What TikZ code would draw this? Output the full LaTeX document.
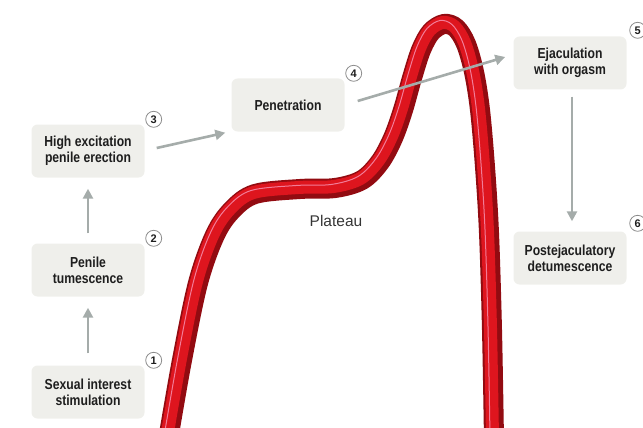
\documentclass[tikz,border=0pt]{standalone}
\usepackage{fontspec}
\usepackage{xcolor}
\usepackage{tikz}
\usetikzlibrary{calc,arrows.meta,positioning}
\newfontfamily\boxfont[FakeStretch=0.84]{Liberation Sans}
\newfontfamily\plainfont{Liberation Sans}
\definecolor{boxbg}{HTML}{EFEFEB}
\definecolor{inkc}{HTML}{1E1E1E}
\definecolor{arrowc}{HTML}{A5ACAA}
\definecolor{numc}{HTML}{8C8C8C}
\definecolor{tubedark}{HTML}{920B11}
\definecolor{tubemain}{HTML}{DE151E}
\definecolor{tubeshine}{HTML}{F27C98}
\tikzset{
  ar/.style={-{Triangle[length=10pt,width=10pt]},line width=2.6pt,arrowc},
  box/.style={fill=boxbg,rounded corners=6pt,minimum width=113pt,minimum height=53pt,
    align=center,inner sep=3pt,text=inkc,font=\boxfont\bfseries\fontsize{14.5}{16}\selectfont},
  num/.style={circle,draw=numc,line width=0.8pt,fill=white,minimum size=16pt,inner sep=0pt,
    text=inkc,font=\plainfont\bfseries\fontsize{11}{11}\selectfont}
}
\newcommand\tubeline[1]{\draw[#1] plot[smooth,tension=0.55] coordinates {
  (168,440) (182,360) (198,283) (215,235) (232,210) (255,194) (300,189) (335,188)
  (362,180) (380,162) (393,138) (403,110) (412,78) (421,50) (431,32) (444,24) (456,28)
  (466,44) (474,72) (480,110) (485,167) (489,233) (492,330) (494,440)};}

\begin{document}
\begin{tikzpicture}[x=1pt,y=-1pt]
\useasboundingbox (0,0) rectangle (643,428);
% the response curve
\begin{scope}
\clip (0,0) rectangle (643,428);
\tubeline{tubedark,line width=20pt}
\tubeline{tubemain,line width=13pt,shift={(-1.5,-1.5)}}
\tubeline{tubeshine,line width=1pt,shift={(-4,-3.5)}}
\end{scope}
\node[font=\plainfont\fontsize{15.5}{16}\selectfont,text=inkc!90] (plat) at (336,221) {Plateau};

% phases
\node[box] (sexual) at (88,392) {Sexual interest\\stimulation};
\node[box] (tum) at (88,270) {Penile\\tumescence};
\node[box] (high) at (88,151) {High excitation\\penile erection};
\node[box] (pen) at (288,105) {Penetration};
\node[box] (ejac) at (570,63) {Ejaculation\\with orgasm};
\node[box] (post) at (570,258) {Postejaculatory\\detumescence};

\node[num] (n1) at ($(sexual.north east)+(9,-5)$) {1};
\node[num] (n2) at ($(tum.north east)+(9,-5)$) {2};
\node[num] (n3) at ($(high.north east)+(9,-5)$) {3};
\node[num] (n4) at ($(pen.north east)+(9,-5)$) {4};
\node[num] (n5) at ($(ejac.north east)+(11,-6)$) {5};
\node[num] (n6) at ($(post.north east)+(11,-8)$) {6};

\draw[ar,shorten <=12pt,shorten >=11pt] (sexual.north) -- (tum.south);
\draw[ar,shorten <=10pt,shorten >=11pt] (tum.north) -- (high.south);
\draw[ar] ($(high.east)+(12,-3)$) -- ($(pen.south west)+(-6,1)$);
\draw[ar] ($(pen.east)+(13,-4)$) -- ($(ejac.west)+(-8,-6)$);
\draw[ar,shorten <=7pt,shorten >=10pt] ($(ejac.south)+(2,0)$) -- ($(post.north)+(2,0)$);
\end{tikzpicture}
\end{document}
